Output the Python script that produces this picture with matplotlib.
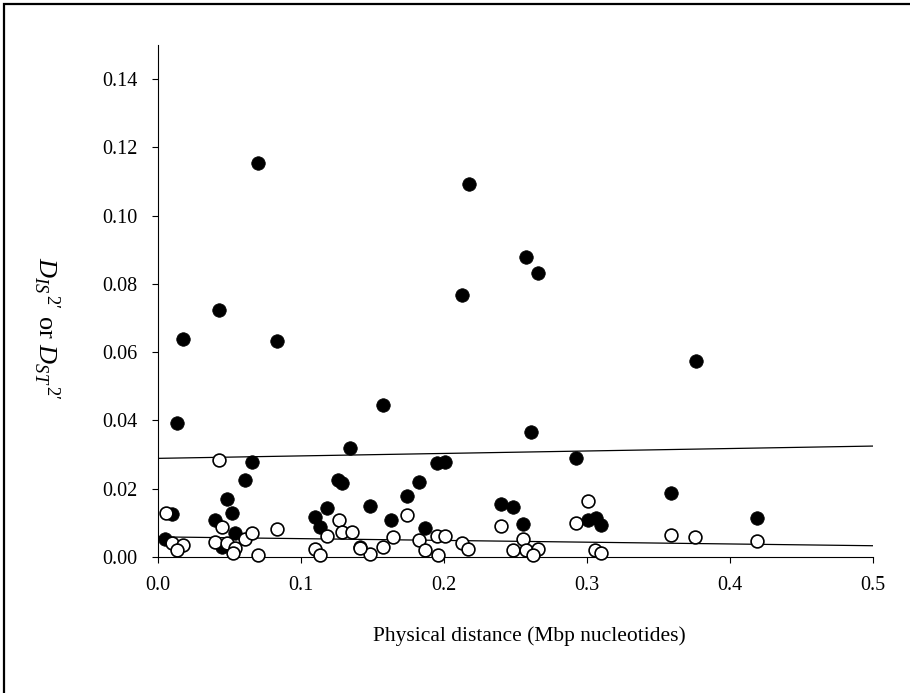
import matplotlib
matplotlib.use("Agg")
import matplotlib.pyplot as plt
from matplotlib.patches import Rectangle

# Points (x in Mbp, y = D'2 value)
# filled circles
filled_x = [0.005, 0.0096, 0.040, 0.048, 0.052, 0.061, 0.066, 0.054, 0.0445,
            0.110, 0.118, 0.113, 0.126, 0.1285, 0.148, 0.163, 0.174, 0.1825,
            0.195, 0.2007, 0.1867, 0.1413, 0.240, 0.2485, 0.255, 0.292, 0.301,
            0.306, 0.310, 0.3585, 0.4187,
            0.070, 0.0427, 0.0173, 0.083, 0.013, 0.1576, 0.134, 0.2175, 0.257,
            0.266, 0.2124, 0.376, 0.261]
filled_y = [0.0053, 0.0126, 0.0108, 0.0170, 0.0129, 0.0226, 0.0279, 0.0071, 0.0029,
            0.0118, 0.0144, 0.0089, 0.0226, 0.0216, 0.0149, 0.0108, 0.0179, 0.0221,
            0.0274, 0.0279, 0.0084, 0.0028, 0.0154, 0.0146, 0.0097, 0.0289, 0.0108,
            0.0113, 0.0094, 0.0187, 0.0115,
            0.1153, 0.0723, 0.0639, 0.0633, 0.0392, 0.0445, 0.0319, 0.1092, 0.0880,
            0.0831, 0.0767, 0.0575, 0.0365]

# open circles
open_x = [0.0054, 0.0096, 0.0175, 0.0133, 0.040, 0.045, 0.0485, 0.054, 0.0524,
          0.061, 0.066, 0.070, 0.083, 0.110, 0.113, 0.118, 0.1266, 0.1285, 0.1355,
          0.174, 0.164, 0.1576, 0.148, 0.1413, 0.1825, 0.1867, 0.195, 0.2007,
          0.196, 0.2124, 0.217, 0.240, 0.255, 0.2485, 0.2573, 0.266, 0.262,
          0.301, 0.292, 0.3056, 0.310, 0.3585, 0.3755, 0.4187, 0.0427]
open_y = [0.0129, 0.0041, 0.0035, 0.0021, 0.0045, 0.0089, 0.0042, 0.0026, 0.0012,
          0.0053, 0.0071, 0.0006, 0.0082, 0.0023, 0.0006, 0.0062, 0.0108, 0.0074, 0.0074,
          0.0123, 0.0059, 0.0028, 0.0009, 0.0026, 0.0050, 0.0021, 0.0062, 0.0062,
          0.0006, 0.0042, 0.0023, 0.0091, 0.0052, 0.0021, 0.0021, 0.0023, 0.0006,
          0.0165, 0.0100, 0.0021, 0.0011, 0.0064, 0.0058, 0.0048, 0.0284]

# regression lines (end points)
fit_x = [0.0, 0.5]
fit_filled = [0.0289, 0.0325]
fit_open = [0.0059, 0.0033]

x_ticks = [0.0, 0.1, 0.2, 0.3, 0.4, 0.5]
y_ticks = [0.00, 0.02, 0.04, 0.06, 0.08, 0.10, 0.12, 0.14]

plt.rcParams['font.family'] = ['Liberation Serif', 'DejaVu Serif']
plt.rcParams['mathtext.fontset'] = 'custom'
plt.rcParams['mathtext.rm'] = 'Liberation Serif'
plt.rcParams['mathtext.it'] = 'Liberation Serif:italic'

fig = plt.figure(figsize=(9.1, 6.93), dpi=100)
ax = fig.add_axes([158 / 910, 1 - 557 / 693, 715 / 910, 512 / 693])

# regression lines
ax.plot(fit_x, fit_filled, color='black', linewidth=0.9, zorder=2)
ax.plot(fit_x, fit_open, color='black', linewidth=0.9, zorder=2)

# points
ax.scatter(filled_x, filled_y, s=95, color='black', edgecolors='black',
           linewidths=0.5, zorder=3, clip_on=False)
ax.scatter(open_x, open_y, s=85, facecolors='white', edgecolors='black',
           linewidths=1.2, zorder=4, clip_on=False)

ax.set_xlim(0, 0.5)
ax.set_ylim(0, 0.15)
ax.set_xticks(x_ticks)
ax.set_xticklabels([f"{v:.1f}" for v in x_ticks])
ax.set_yticks(y_ticks)
ax.set_yticklabels([f"{v:.2f}" for v in y_ticks])

ax.spines['top'].set_visible(False)
ax.spines['right'].set_visible(False)
ax.spines['left'].set_linewidth(0.8)
ax.spines['bottom'].set_linewidth(0.8)
ax.tick_params(direction='out', length=4.5, width=0.8, labelsize=14.5)
ax.tick_params(axis='y', pad=10)
ax.tick_params(axis='x', pad=9)

# axis labels
fig.text(529 / 910, 1 - 636 / 693, 'Physical distance (Mbp nucleotides)',
         ha='center', va='center', fontsize=15.5)
fig.text(46 / 910, 1 - 328 / 693,
         r'$D_{IS}{}^{\,\mathit{2}\prime}$ or $D_{ST}{}^{\,\mathit{2}\prime}$',
         ha='center', va='center', rotation=270, fontsize=19)

# outer frame (only left and top edges visible in the scan)
fig.patches.append(Rectangle((4 / 910, -0.05), 1.2, 1 - 4 / 693 + 0.05,
                             transform=fig.transFigure, fill=False,
                             edgecolor='black', linewidth=1.6))

fig.savefig('out.png', dpi=100)
